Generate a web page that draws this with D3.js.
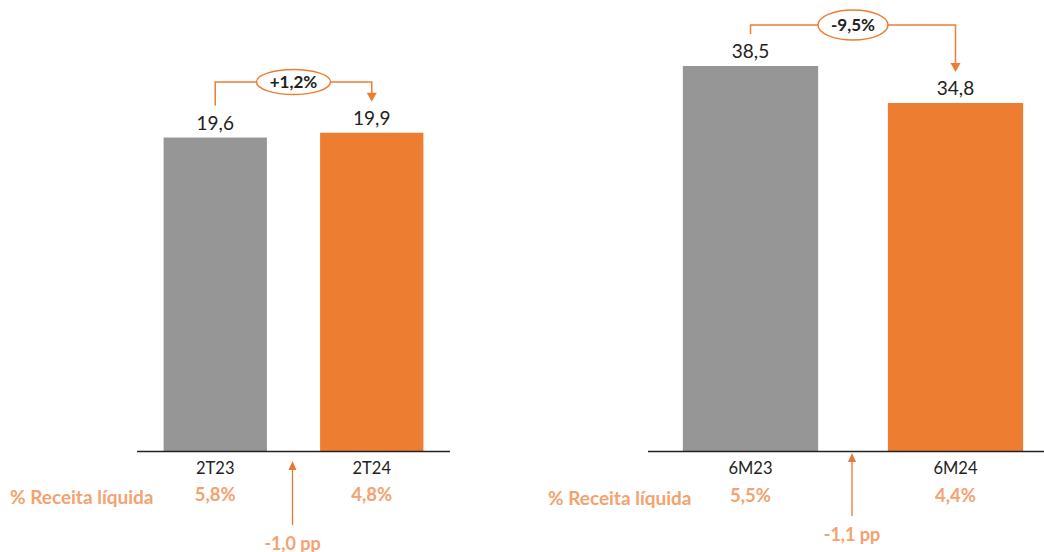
<!DOCTYPE html>
<html>
<head>
<meta charset="utf-8">
<script src="https://cdn.jsdelivr.net/npm/d3@7"></script>
<style>
  body { margin: 0; background: #fff; }
  svg { display: block; font-family: Lato, "Open Sans", sans-serif; }
</style>
</head>
<body>
<svg></svg>
<script>
const width = 1044;
const height = 552;

// data
const quarterCats = ["2T23", "2T24"];
const quarterValues = [19.6, 19.9];
const quarterPct = ["5,8%", "4,8%"];
const quarterChange = "+1,2%";
const quarterPP = "-1,0 pp";

const semesterCats = ["6M23", "6M24"];
const semesterValues = [38.5, 34.8];
const semesterPct = ["5,5%", "4,4%"];
const semesterChange = "-9,5%";
const semesterPP = "-1,1 pp";

const pctTitle = "% Receita líquida";

const gray = "#969696";
const orange = "#ED7D31";
const lightOrange = "#F4A26F";

const svg = d3.select("svg")
    .attr("width", width)
    .attr("height", height);

const fmt = v => d3.format(".1f")(v).replace(".", ",");

// Draw one panel
function drawPanel(cfg) {
    const g = svg.append("g");
    const baseY = 451;

    const x = d3.scaleBand()
        .domain(cfg.cats)
        .range(cfg.xRange)
        .paddingInner(0.34)
        .paddingOuter(0.17);

    const y = d3.scaleLinear()
        .domain([0, cfg.yMax])
        .range([baseY, 0]);

    const data = cfg.cats.map((c, i) => ({cat: c, value: cfg.values[i], pct: cfg.pct[i]}));

    // bars
    g.selectAll("rect.bar")
        .data(data)
        .enter().append("rect")
        .attr("class", "bar")
        .attr("x", d => x(d.cat))
        .attr("y", d => y(d.value))
        .attr("width", x.bandwidth())
        .attr("height", d => baseY - y(d.value))
        .attr("fill", (d, i) => i === 0 ? gray : orange);

    // baseline
    g.append("line")
        .attr("x1", cfg.xRange[0])
        .attr("x2", cfg.xRange[1])
        .attr("y1", baseY + 0.5)
        .attr("y2", baseY + 0.5)
        .attr("stroke", "#222")
        .attr("stroke-width", 1.3);

    const cx = d => x(d.cat) + x.bandwidth() / 2;

    // value labels
    g.selectAll("text.val")
        .data(data)
        .enter().append("text")
        .attr("x", cx)
        .attr("y", d => y(d.value) - 8)
        .attr("text-anchor", "middle")
        .attr("font-size", 19)
        .attr("fill", "#222")
        .text(d => fmt(d.value));

    // category labels
    g.selectAll("text.cat")
        .data(data)
        .enter().append("text")
        .attr("x", cx)
        .attr("y", 474)
        .attr("text-anchor", "middle")
        .attr("font-size", 16.5)
        .attr("fill", "#222")
        .text(d => d.cat);

    // pct labels
    g.selectAll("text.pct")
        .data(data)
        .enter().append("text")
        .attr("x", cx)
        .attr("y", cfg.pctY)
        .attr("text-anchor", "middle")
        .attr("font-size", 18.5)
        .attr("font-weight", "bold")
        .attr("fill", lightOrange)
        .text(d => d.pct);

    g.append("text")
        .attr("x", cfg.titleX)
        .attr("y", cfg.pctY + 3)
        .attr("font-size", 19)
        .attr("font-weight", "bold")
        .attr("fill", lightOrange)
        .text(pctTitle);

    // pp arrow
    const mx = (cx(data[0]) + cx(data[1])) / 2 - 1;
    g.append("line")
        .attr("x1", mx).attr("x2", mx)
        .attr("y1", cfg.ppArrow[1])
        .attr("y2", cfg.ppArrow[0] + 8)
        .attr("stroke", "#E07A3A")
        .attr("stroke-width", 1.3);
    g.append("path")
        .attr("d", `M${mx - 4},${cfg.ppArrow[0] + 9}L${mx},${cfg.ppArrow[0]}L${mx + 4},${cfg.ppArrow[0] + 9}Z`)
        .attr("fill", "#E07A3A");
    g.append("text")
        .attr("x", mx)
        .attr("y", cfg.ppArrow[1] + 25)
        .attr("text-anchor", "middle")
        .attr("font-size", 18)
        .attr("font-weight", "bold")
        .attr("fill", lightOrange)
        .text(cfg.pp);

    // change bracket
    const x0 = cx(data[0]);
    const x1 = cx(data[1]);
    const top0 = y(data[0].value) - 32;
    const tip = y(data[1].value) - 31;
    const by = cfg.bracketY;
    g.append("path")
        .attr("d", `M${x0},${top0}V${by}H${x1}V${tip - 8}`)
        .attr("fill", "none")
        .attr("stroke", orange)
        .attr("stroke-width", 1.5);
    g.append("path")
        .attr("d", `M${x1 - 5},${tip - 9}L${x1},${tip}L${x1 + 5},${tip - 9}Z`)
        .attr("fill", orange);
    const ex = (x0 + x1) / 2;
    g.append("ellipse")
        .attr("cx", ex)
        .attr("cy", by)
        .attr("rx", cfg.ell[0])
        .attr("ry", cfg.ell[1])
        .attr("fill", "#fff")
        .attr("stroke", orange)
        .attr("stroke-width", 1.5);
    g.append("text")
        .attr("x", ex)
        .attr("y", by + 6)
        .attr("text-anchor", "middle")
        .attr("font-size", 17)
        .attr("font-weight", "bold")
        .attr("fill", "#222")
        .text(cfg.change);
}

drawPanel({
    cats: quarterCats, values: quarterValues, pct: quarterPct,
    change: quarterChange, pp: quarterPP,
    xRange: [137, 450], yMax: 28.2,
    pctY: 501, titleX: 10, ppArrow: [461, 525],
    bracketY: 82, ell: [37, 12.5]
});

drawPanel({
    cats: semesterCats, values: semesterValues, pct: semesterPct,
    change: semesterChange, pp: semesterPP,
    xRange: [648, 1058], yMax: 45.1,
    pctY: 502, titleX: 548, ppArrow: [453, 516],
    bracketY: 25, ell: [35, 15]
});
</script>
</body>
</html>
